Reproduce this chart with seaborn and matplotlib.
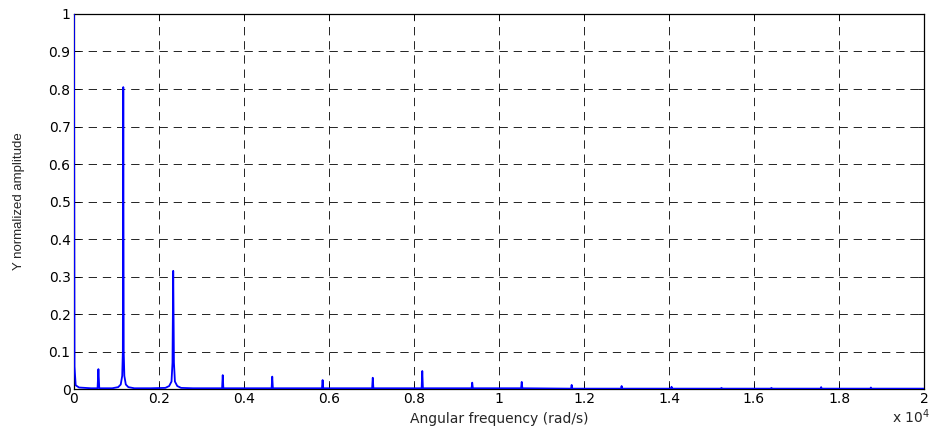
import matplotlib
matplotlib.use("Agg")
import matplotlib.pyplot as plt
import seaborn as sns
import pandas as pd

# spectrum vertices (rad/s, normalized amplitude)
omega = [0, 12, 40, 120, 400,
         555, 575, 595,
         900, 1040, 1100, 1135, 1150, 1160, 1170, 1185, 1220, 1280, 1420,
         1800, 2150, 2240, 2295, 2318, 2335, 2352, 2375, 2430, 2520, 2800,
         3485, 3500, 3515,
         4650, 4665, 4680,
         5835, 5850, 5865,
         7015, 7030, 7045,
         8180, 8195, 8210,
         9355, 9370, 9385,
         10520, 10535, 10550,
         11695, 11710, 11725,
         12870, 12885, 12900,
         14045, 14060, 14075,
         15220, 15235, 15250,
         16395, 16410, 16425,
         17565, 17580, 17595,
         18735, 18750, 18765,
         20000]
amplitude = [1.0, 0.06, 0.01, 0.004, 0.002,
             0.002, 0.053, 0.002,
             0.002, 0.005, 0.012, 0.035, 0.1, 0.805, 0.1, 0.035, 0.012, 0.005, 0.002,
             0.002, 0.003, 0.008, 0.02, 0.07, 0.315, 0.07, 0.02, 0.008, 0.003, 0.002,
             0.002, 0.037, 0.002,
             0.002, 0.033, 0.002,
             0.002, 0.024, 0.002,
             0.002, 0.030, 0.002,
             0.002, 0.048, 0.002,
             0.002, 0.017, 0.002,
             0.002, 0.019, 0.002,
             0.001, 0.011, 0.001,
             0.001, 0.008, 0.001,
             0.001, 0.006, 0.001,
             0.001, 0.003, 0.001,
             0.001, 0.003, 0.001,
             0.001, 0.005, 0.001,
             0.001, 0.004, 0.001,
             0.001]

xticks = [0, 2000, 4000, 6000, 8000, 10000, 12000, 14000, 16000, 18000, 20000]
xticklabels = ['0', '0.2', '0.4', '0.6', '0.8', '1', '1.2', '1.4', '1.6', '1.8', '2']
yticks = [0, 0.1, 0.2, 0.3, 0.4, 0.5, 0.6, 0.7, 0.8, 0.9, 1]
yticklabels = ['0', '0.1', '0.2', '0.3', '0.4', '0.5', '0.6', '0.7', '0.8', '0.9', '1']

sns.set_style('ticks')
plt.rcParams['font.family'] = ['DejaVu Sans']

df = pd.DataFrame({'omega': omega, 'amp': amplitude})

fig = plt.figure(figsize=(9.34, 4.32), dpi=100)
ax = fig.add_axes([0.0792, 0.0995, 0.9101, 0.8681])

sns.lineplot(data=df, x='omega', y='amp', estimator=None, sort=False,
             color='#0000ff', linewidth=1.3, ax=ax, zorder=3)

ax.set_xlim(0, 20000)
ax.set_ylim(0, 1)
ax.set_xticks(xticks)
ax.set_xticklabels(xticklabels)
ax.set_yticks(yticks)
ax.set_yticklabels(yticklabels)
ax.tick_params(direction='in', length=4, width=0.6, labelsize=10,
               top=True, right=True, colors='k', pad=2.5)
ax.grid(True, color='k', linestyle=(0, (10, 7)), linewidth=0.6)
for s in ax.spines.values():
    s.set_color('k')
    s.set_linewidth(0.9)

ax.set_xlabel('Angular frequency (rad/s)', fontsize=10, labelpad=4)
ax.set_ylabel('Y normalized amplitude', fontsize=9.5, labelpad=17,
              family='Liberation Sans')
ax.text(1.007, -0.075, r'x 10$^4$', transform=ax.transAxes, fontsize=10,
        ha='right', va='center')

fig.savefig('out.png', dpi=100)
